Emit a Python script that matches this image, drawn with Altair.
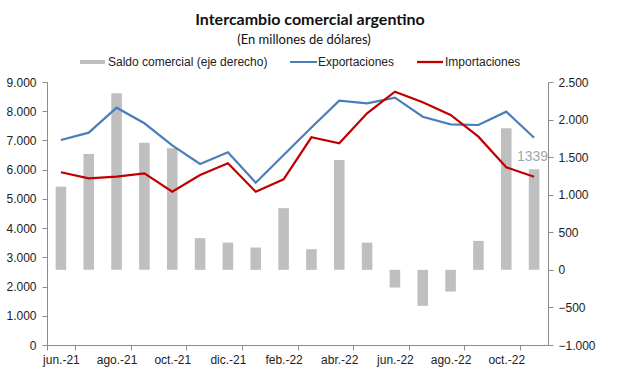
import altair as alt
import pandas as pd

months = ["jun.-21", "jul.-21", "ago.-21", "sep.-21", "oct.-21", "nov.-21",
          "dic.-21", "ene.-22", "feb.-22", "mar.-22", "abr.-22", "may.-22",
          "jun.-22", "jul.-22", "ago.-22", "sep.-22", "oct.-22", "nov.-22"]
exportaciones = [7016, 7266, 8121, 7587, 6830, 6194, 6594, 5554, 6500, 7440,
                 8361, 8272, 8464, 7813, 7553, 7529, 7984, 7094]
importaciones = [5910, 5705, 5760, 5876, 5246, 5818, 6218, 5246, 5671, 7108,
                 6900, 7930, 8669, 8306, 7871, 7129, 6081, 5755]
saldo = [1108, 1543, 2350, 1693, 1619, 422, 363, 297, 821, 275,
         1463, 363, -235, -479, -289, 386, 1885, 1339]
tick_labels = ["jun.-21", "ago.-21", "oct.-21", "dic.-21", "feb.-22",
               "abr.-22", "jun.-22", "ago.-22", "oct.-22"]
left_ticks = [0, 1000, 2000, 3000, 4000, 5000, 6000, 7000, 8000, 9000]
right_ticks = [-1000, -500, 0, 500, 1000, 1500, 2000, 2500]
title_text = "Intercambio comercial argentino"
subtitle_text = "(En millones de dólares)"
legend_labels = ["Saldo comercial (eje derecho)", "Exportaciones", "Importaciones"]
last_label = "1339"

df = pd.DataFrame({"mes": months, "Exportaciones": exportaciones,
                   "Importaciones": importaciones, "saldo": saldo})
df["lbl"] = ["" for _ in months[:-1]] + [last_label]

BLUE = "#4A7EBB"
RED = "#C00000"
GRAY = "#BFBFBF"
AXC = "#8C8C8C"
FONT = "Liberation Sans"
fmt = "replace(format(datum.value, ','), ',', '.')"

x = alt.X("mes:N", sort=months, title=None,
          scale=alt.Scale(paddingInner=0, paddingOuter=0),
          axis=alt.Axis(values=tick_labels, labelAngle=0, tickBand="extent",
                        domainColor=AXC, tickColor=AXC, tickSize=5,
                        labelFontSize=12, labelColor="#222", labelFont=FONT,
                        labelPadding=4, grid=False, labelOverlap=False))

yr = alt.Y("saldo:Q", title=None,
           scale=alt.Scale(domain=[-1000, 2500], nice=False, zero=False),
           axis=alt.Axis(orient="right", values=right_ticks,
                         labelExpr=fmt, grid=False, domainColor=AXC,
                         tickColor=AXC, tickSize=5, labelFontSize=12,
                         labelColor="#222", labelFont=FONT, labelPadding=5,
                         labelOverlap=False, labelBound=False))

bars = alt.Chart(df).mark_bar(color=GRAY, width=alt.RelativeBandSize(0.38)).encode(
    x=x, y=yr)

last_text = alt.Chart(df).mark_text(
    align="right", baseline="bottom", dx=14, dy=-5, fontSize=14,
    color="#A6A6A6", font=FONT).encode(x=x, y=yr, text="lbl:N")

bar_layer = alt.layer(bars, last_text)

yl = alt.Y("valor:Q", title=None,
           scale=alt.Scale(domain=[0, 9000], nice=False),
           axis=alt.Axis(orient="left", values=left_ticks,
                         labelExpr=fmt, grid=False, domainColor=AXC,
                         tickColor=AXC, tickSize=5, labelFontSize=12,
                         labelColor="#222", labelFont=FONT, labelPadding=6,
                         labelOverlap=False, labelBound=False))
lines = alt.Chart(df).transform_fold(
    ["Exportaciones", "Importaciones"], as_=["serie", "valor"]
).mark_line(strokeWidth=2.2).encode(
    x=x, y=yl,
    color=alt.Color("serie:N", legend=None,
                    scale=alt.Scale(domain=["Exportaciones", "Importaciones"],
                                    range=[BLUE, RED])),
)

# Title and legend (pixel positions relative to plot origin)
ttl = alt.Chart(pd.DataFrame({"t": [title_text]})).mark_text(
    font="Lato", fontWeight="bold", fontSize=16, color="#111",
    align="center", baseline="middle").encode(
    x=alt.value(263), y=alt.value(-62), text="t:N")
sub = alt.Chart(pd.DataFrame({"t": [subtitle_text]})).mark_text(
    font="Lato", fontSize=13, color="#111",
    align="center", baseline="middle").encode(
    x=alt.value(257), y=alt.value(-42), text="t:N")

leg_rect = alt.Chart(pd.DataFrame({"k": [legend_labels[0]]})).mark_rect(color=GRAY).encode(
    x=alt.value(33), x2=alt.value(58), y=alt.value(-22), y2=alt.value(-18))
leg_blue = alt.Chart(pd.DataFrame({"k": [legend_labels[1]]})).mark_rule(color=BLUE, strokeWidth=2).encode(
    x=alt.value(243), x2=alt.value(270), y=alt.value(-20))
leg_red = alt.Chart(pd.DataFrame({"k": [legend_labels[2]]})).mark_rule(color=RED, strokeWidth=2.3).encode(
    x=alt.value(370), x2=alt.value(396), y=alt.value(-20))
leg_df = pd.DataFrame({"k": legend_labels, "px": [61, 271, 398]})
leg_text = alt.Chart(leg_df).mark_text(
    font=FONT, fontSize=12, color="#222", align="left", baseline="middle").encode(
    x=alt.X("px:Q", scale=None), y=alt.value(-20), text="k:N")

chart = alt.layer(bar_layer, lines, ttl, sub, leg_rect, leg_blue, leg_red, leg_text).resolve_scale(
    y="independent", color="independent"
).properties(
    width=501, height=263,
    autosize=alt.AutoSizeParams(type="none"),
    padding={"left": 47, "top": 82, "right": 69, "bottom": 31},
    background="white",
).configure_view(stroke=None)

chart.save("out.html", embed_options={"renderer": "svg", "actions": False})
